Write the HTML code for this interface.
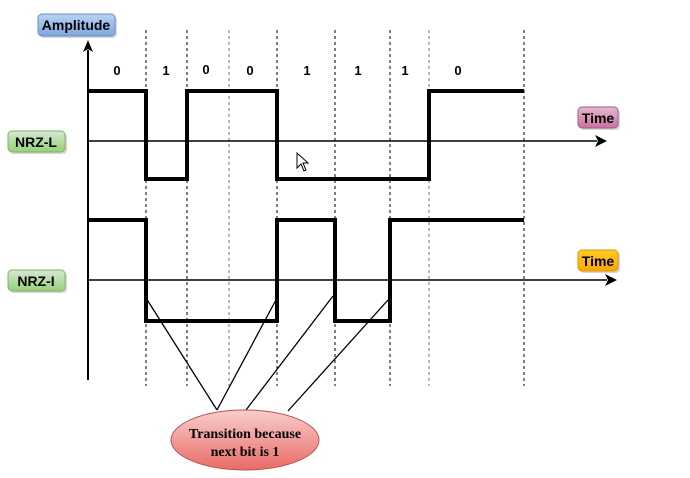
<!DOCTYPE html>
<html><head><style>body{margin:0;background:#fff}</style></head><body>
<svg width="690" height="478" xmlns="http://www.w3.org/2000/svg" style="display:block">
<defs>
<linearGradient id="b" x1="0" y1="0" x2="0" y2="1"><stop offset="0" stop-color="#b8d3f5"/><stop offset="1" stop-color="#7ea6e0"/></linearGradient>
<linearGradient id="g" x1="0" y1="0" x2="0" y2="1"><stop offset="0" stop-color="#d5e8d4"/><stop offset="1" stop-color="#97d077"/></linearGradient>
<linearGradient id="p" x1="0" y1="0" x2="0" y2="1"><stop offset="0" stop-color="#e6b8d0"/><stop offset="1" stop-color="#cd6fa0"/></linearGradient>
<linearGradient id="o" x1="0" y1="0" x2="0" y2="1"><stop offset="0" stop-color="#ffcd28"/><stop offset="1" stop-color="#ffa500"/></linearGradient>
<linearGradient id="r" x1="0" y1="0" x2="0" y2="1"><stop offset="0" stop-color="#f8cecc"/><stop offset="1" stop-color="#ea6b66"/></linearGradient>
</defs>
<g stroke="#000" stroke-dasharray="3,3" stroke-width="1">
<line x1="146" y1="30" x2="146" y2="386"/><line x1="187" y1="30" x2="187" y2="386"/>
<line x1="229" y1="30" x2="229" y2="386" stroke="#777"/><line x1="277" y1="30" x2="277" y2="386"/>
<line x1="335" y1="30" x2="335" y2="386"/><line x1="390" y1="30" x2="390" y2="386"/>
<line x1="429" y1="30" x2="429" y2="386" stroke="#777"/><line x1="524" y1="30" x2="524" y2="386"/>
</g>
<line x1="88" y1="380" x2="88" y2="50" stroke="#000" stroke-width="2"/>
<polygon points="88,40 83,52 88,49 93,52" fill="#000"/>
<line x1="88" y1="141" x2="597" y2="141" stroke="#000" stroke-width="1.5"/>
<polygon points="607,141 595,135 598,141 595,147" fill="#000"/>
<line x1="88" y1="280" x2="607" y2="280" stroke="#000" stroke-width="1.5"/>
<polygon points="617,280 605,274 608,280 605,286" fill="#000"/>
<polyline fill="none" stroke="#000" stroke-width="4" points="88,91 146,91 146,179 187,179 187,91 277,91 277,179 429,179 429,91 524,91"/>
<polyline fill="none" stroke="#000" stroke-width="4" points="88,220 146,220 146,321 277,321 277,220 335,220 335,321 390,321 390,220 524,220"/>
<g stroke="#000" stroke-width="1.3">
<line x1="146" y1="298" x2="217" y2="410"/><line x1="277" y1="298" x2="217" y2="410"/>
<line x1="333" y1="296" x2="246" y2="410"/><line x1="388" y1="300" x2="288" y2="411"/>
</g>
<g font-family="Liberation Sans, sans-serif" font-weight="bold" font-size="13" text-anchor="middle">
<text x="117" y="75">0</text><text x="166" y="75">1</text><text x="206" y="74">0</text><text x="250" y="75">0</text>
<text x="307" y="75">1</text><text x="358" y="75">1</text><text x="405" y="75">1</text><text x="458" y="75">0</text>
</g>
<g font-family="Liberation Sans, sans-serif" font-weight="bold" font-size="14" text-anchor="middle">
<rect x="40" y="16" width="77" height="22" rx="4" fill="#999" opacity="0.4"/>
<rect x="38" y="14" width="77" height="22" rx="4" fill="url(#b)" stroke="#6c8ebf"/>
<text x="76" y="30">Amplitude</text>
<rect x="10" y="133" width="57" height="21" rx="4" fill="#999" opacity="0.4"/>
<rect x="8" y="131" width="57" height="21" rx="4" fill="url(#g)" stroke="#82b366"/>
<text x="36" y="147">NRZ-L</text>
<rect x="10" y="272" width="57" height="21" rx="4" fill="#999" opacity="0.4"/>
<rect x="8" y="270" width="57" height="21" rx="4" fill="url(#g)" stroke="#82b366"/>
<text x="36" y="286">NRZ-I</text>
<rect x="580" y="109" width="40" height="21" rx="4" fill="#999" opacity="0.4"/>
<rect x="578" y="107" width="40" height="21" rx="4" fill="url(#p)" stroke="#996185"/>
<text x="598" y="123">Time</text>
<rect x="580" y="252" width="40" height="21" rx="4" fill="#999" opacity="0.4"/>
<rect x="578" y="250" width="40" height="21" rx="4" fill="url(#o)" stroke="#d79b00"/>
<text x="598" y="266">Time</text>
</g>
<ellipse cx="245" cy="440" rx="74" ry="30" fill="url(#r)" stroke="#b85450"/>
<g font-family="Liberation Serif, serif" font-weight="bold" font-size="14" text-anchor="middle">
<text x="245" y="438">Transition because</text><text x="245" y="456">next bit is 1</text>
</g>
<path d="M297,153 L297,168 L301,164 L304,171 L306,170 L303,163 L308,163 Z" fill="#fff" stroke="#000" stroke-width="1"/>
</svg>
</body></html>
